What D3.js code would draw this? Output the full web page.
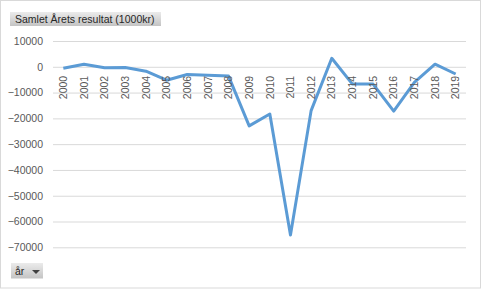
<!DOCTYPE html>
<html>
<head>
<meta charset="utf-8">
<script src="https://cdn.jsdelivr.net/npm/d3@7"></script>
<style>
  body { margin: 0; background: #fff; }
  svg { display: block; font-family: 'Liberation Sans', Arial, sans-serif; }
</style>
</head>
<body>
<div id="chart"></div>
<script>
const years = ['2000', '2001', '2002', '2003', '2004', '2005', '2006', '2007', '2008', '2009',
  '2010', '2011', '2012', '2013', '2014', '2015', '2016', '2017', '2018', '2019'];
const resultat = [-600, 1000, -400, -300, -1700, -5200, -3000, -3300, -3600, -22900,
  -18300, -65200, -17000, 3300, -6700, -6700, -17200, -6000, 1000, -2800];
const yTicks = [10000, 0, -10000, -20000, -30000, -40000, -50000, -60000, -70000];
const titleText = 'Samlet Årets resultat (1000kr)';
const filterText = 'år';

const width = 481;
const height = 289;
const margin = { top: 41, right: 15, bottom: 41.7, left: 53 };

const svg = d3.select('#chart').append('svg')
    .attr('width', width)
    .attr('height', height);

const defs = svg.append('defs');
const grad = defs.append('linearGradient')
    .attr('id', 'btn')
    .attr('x1', 0).attr('y1', 0).attr('x2', 0).attr('y2', 1);
grad.append('stop').attr('offset', '0%').attr('stop-color', '#ebebeb');
grad.append('stop').attr('offset', '100%').attr('stop-color', '#c4c4c4');

// Outer frame
svg.append('rect')
    .attr('x', 0.5).attr('y', 0.5)
    .attr('width', width - 1).attr('height', height - 1.5)
    .attr('fill', '#fff')
    .attr('stroke', '#d9d9d9');

const x = d3.scaleBand()
    .domain(years)
    .range([margin.left, width - margin.right]);

const y = d3.scaleLinear()
    .domain([-70000, 10000])
    .range([height - margin.bottom, margin.top]);

// Gridlines + y labels
const yAxis = svg.append('g')
    .attr('transform', `translate(${margin.left},0)`)
    .call(d3.axisLeft(y)
      .tickValues(yTicks)
      .tickFormat(d3.format('d'))
      .tickSize(-(width - margin.left - margin.right))
      .tickPadding(10));
yAxis.select('.domain').remove();
yAxis.selectAll('.tick line').attr('stroke', '#d9d9d9');
yAxis.selectAll('.tick text')
    .attr('fill', '#595959')
    .style('font-size', '10.5px');

// Line
const line = d3.line()
    .x((d, i) => x(years[i]) + x.bandwidth() / 2)
    .y(d => y(d));

svg.append('path')
    .datum(resultat)
    .attr('d', line)
    .attr('fill', 'none')
    .attr('stroke', '#5b9bd5')
    .attr('stroke-width', 3)
    .attr('stroke-linejoin', 'round');

// X labels, rotated, drawn over the line like Excel does
const xAxis = svg.append('g')
    .attr('transform', `translate(0,${y(0)})`)
    .call(d3.axisBottom(x).tickSize(0).tickPadding(0));
xAxis.select('.domain').remove();
xAxis.selectAll('.tick text')
    .attr('transform', 'rotate(-90)')
    .attr('x', -9)
    .attr('y', 0)
    .attr('dy', '0.35em')
    .style('text-anchor', 'end')
    .style('font-size', '10.5px')
    .attr('fill', '#595959');

// Title button
const title = svg.append('g').attr('transform', 'translate(10,12)');
title.append('rect')
    .attr('width', 151).attr('height', 14)
    .attr('fill', 'url(#btn)');
title.append('text')
    .text(titleText)
    .attr('x', 5).attr('y', 11)
    .style('font-size', '10.5px')
    .attr('fill', '#262626');

// Field button
const field = svg.append('g').attr('transform', 'translate(11,263)');
field.append('rect')
    .attr('width', 32).attr('height', 15.5)
    .attr('fill', 'url(#btn)');
field.append('text')
    .text(filterText)
    .attr('x', 4).attr('y', 11.5)
    .style('font-size', '10.5px')
    .attr('fill', '#262626');
field.append('path')
    .attr('d', 'M21,7 L29,7 L25,11 Z')
    .attr('fill', '#404040');
</script>
</body>
</html>
